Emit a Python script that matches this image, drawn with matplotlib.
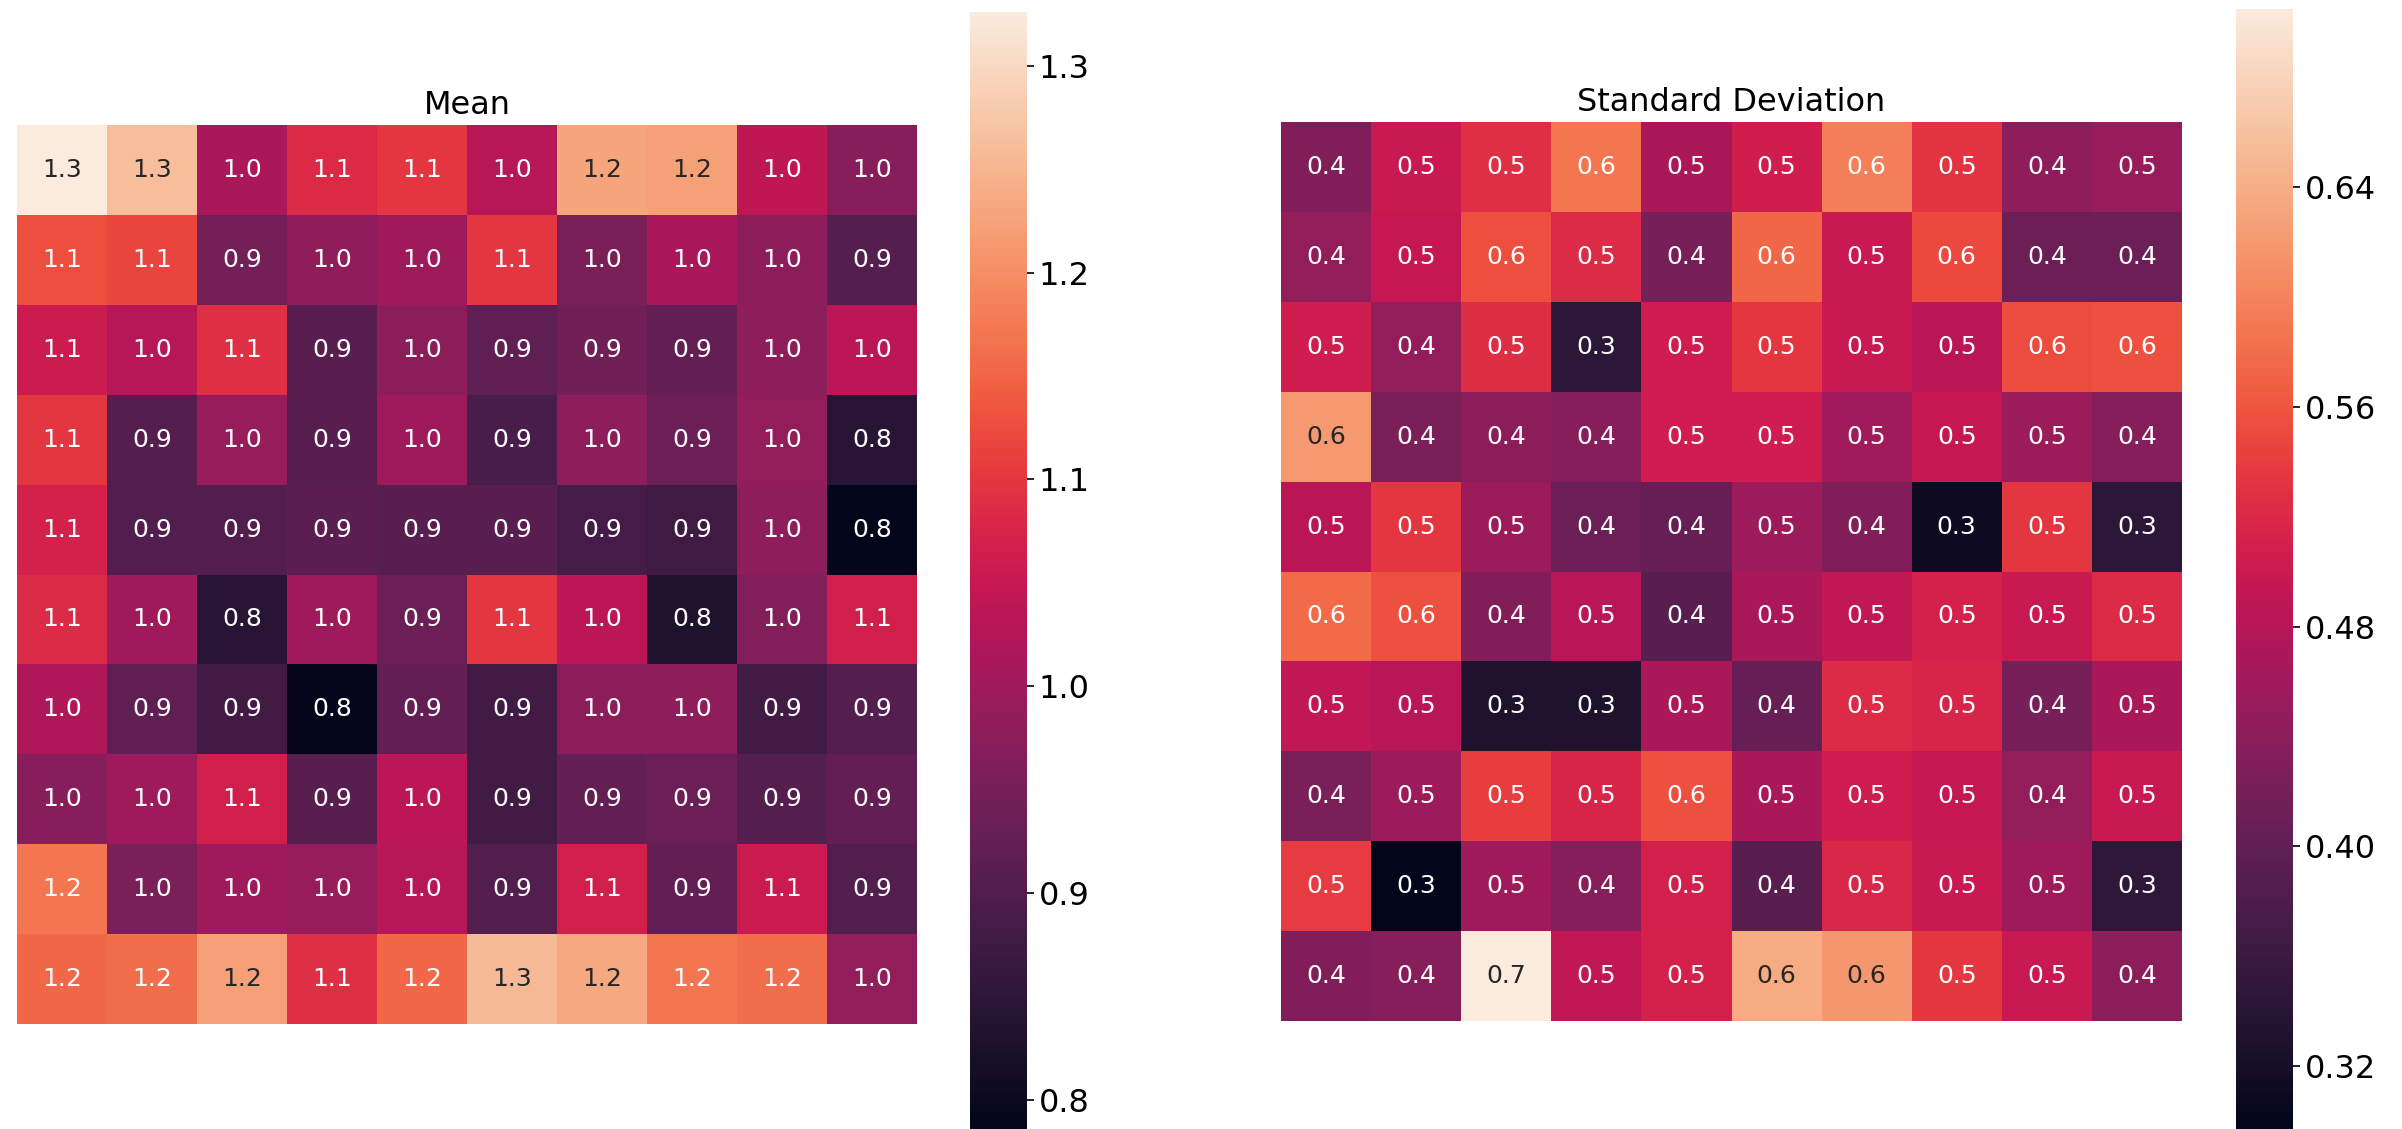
import matplotlib
matplotlib.use("Agg")
import matplotlib.pyplot as plt
import numpy as np
import seaborn as sns

# 10x10 grid of per-cell statistics
mean_values = [
    [1.326, 1.262, 1.013, 1.083, 1.100, 1.030, 1.228, 1.222, 1.040, 0.970],
    [1.127, 1.116, 0.945, 0.981, 1.000, 1.100, 0.955, 1.010, 0.980, 0.905],
    [1.056, 1.030, 1.090, 0.910, 0.975, 0.920, 0.940, 0.925, 0.980, 1.035],
    [1.100, 0.905, 0.990, 0.910, 1.000, 0.890, 0.980, 0.935, 0.985, 0.845],
    [1.070, 0.900, 0.900, 0.915, 0.910, 0.910, 0.885, 0.875, 0.980, 0.786],
    [1.085, 1.000, 0.845, 1.000, 0.935, 1.100, 1.035, 0.830, 0.965, 1.065],
    [1.020, 0.920, 0.880, 0.790, 0.925, 0.880, 0.975, 0.980, 0.880, 0.905],
    [0.970, 1.000, 1.065, 0.910, 1.035, 0.880, 0.925, 0.935, 0.905, 0.925],
    [1.170, 0.955, 1.000, 0.990, 1.030, 0.900, 1.065, 0.925, 1.055, 0.900],
    [1.155, 1.160, 1.222, 1.090, 1.155, 1.255, 1.232, 1.170, 1.160, 0.985],
]

std_values = [
    [0.430, 0.498, 0.527, 0.588, 0.470, 0.506, 0.596, 0.530, 0.445, 0.452],
    [0.448, 0.495, 0.555, 0.522, 0.420, 0.575, 0.498, 0.550, 0.410, 0.410],
    [0.505, 0.448, 0.525, 0.346, 0.505, 0.533, 0.498, 0.485, 0.553, 0.556],
    [0.620, 0.425, 0.440, 0.435, 0.505, 0.505, 0.460, 0.495, 0.455, 0.435],
    [0.485, 0.533, 0.455, 0.410, 0.405, 0.455, 0.430, 0.310, 0.533, 0.346],
    [0.578, 0.556, 0.430, 0.482, 0.390, 0.470, 0.490, 0.512, 0.498, 0.522],
    [0.490, 0.482, 0.330, 0.330, 0.470, 0.405, 0.522, 0.516, 0.420, 0.470],
    [0.425, 0.455, 0.540, 0.516, 0.556, 0.470, 0.505, 0.495, 0.448, 0.498],
    [0.538, 0.297, 0.458, 0.435, 0.510, 0.390, 0.520, 0.498, 0.458, 0.348],
    [0.430, 0.435, 0.705, 0.490, 0.512, 0.638, 0.618, 0.535, 0.498, 0.440],
]

titles = ["Mean", "Standard Deviation"]
mean_ticks = [0.8, 0.9, 1.0, 1.1, 1.2, 1.3]
std_ticks = [0.32, 0.40, 0.48, 0.56, 0.64]

W, H = 2402, 1129
fig = plt.figure(figsize=(W / 100, H / 100), dpi=100)


def frac(x0, y0, x1, y1):
    return [x0 / W, 1 - y1 / H, (x1 - x0) / W, (y1 - y0) / H]


ax_mean = fig.add_axes(frac(17, 125, 917, 1024))
cb_mean = fig.add_axes(frac(970, 12, 1027, 1129))
ax_std = fig.add_axes(frac(1281, 122, 2182, 1021))
cb_std = fig.add_axes(frac(2236, 9, 2293, 1129))

panels = [
    (ax_mean, cb_mean, mean_values, titles[0], mean_ticks, "%.1f"),
    (ax_std, cb_std, std_values, titles[1], std_ticks, "%.2f"),
]

for ax, cax, values, title, ticks, tfmt in panels:
    data = np.array(values)
    sns.heatmap(data, ax=ax, cbar_ax=cax, cmap="rocket", annot=True, fmt=".1f",
                annot_kws={"size": 18}, xticklabels=False, yticklabels=False)
    ax.set_title(title, fontsize=23, pad=8)
    cax.set_yticks(ticks)
    cax.set_yticklabels([tfmt % t for t in ticks])
    cax.tick_params(labelsize=23, length=5, width=1.2)

fig.savefig("out.png", dpi=100)
